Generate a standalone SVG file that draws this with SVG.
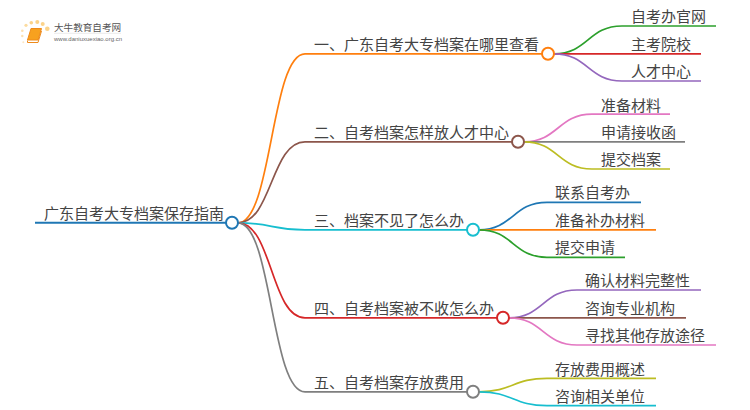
<svg xmlns="http://www.w3.org/2000/svg" width="750" height="410" viewBox="0 0 750 410">
<style>
text{font-family:"Noto Sans CJK SC","Liberation Sans",sans-serif;fill:#444;font-size:15px}
.c{fill:none;stroke-width:1.700}
.n{fill:#fff;stroke-width:2}
.bl{stroke:#1f77b4}.o{stroke:#ff7f0e}.gr{stroke:#2ca02c}.rd{stroke:#d62728}.pu{stroke:#9467bd}.br{stroke:#8c564b}.pk{stroke:#e377c2}.gy{stroke:#7f7f7f}.ol{stroke:#bcbd22}.cy{stroke:#17becf}
</style>
<rect width="750" height="410" fill="#fff"/>
<g id="logo">
<circle cx="47.300" cy="28.700" r="2.300" fill="#fbd38a"/><circle cx="42.700" cy="24" r="2" fill="#fbd38a"/><circle cx="37.300" cy="22" r="2" fill="#fbd38a"/><circle cx="31.300" cy="22.700" r="1.800" fill="#fbd38a"/><circle cx="26" cy="25.300" r="1.600" fill="#fcdca0"/><circle cx="22.300" cy="30.700" r="1.300" fill="#fce0b0"/><circle cx="22.300" cy="36" r="1.200" fill="#fce0b0"/><circle cx="23.300" cy="42.300" r="1" fill="#fce6c4"/>
<path d="M31 28.500H41.500L38 40H27.500Z" fill="#f7a11f" stroke="#ee8a1a"/>
<path d="M27.500 40.500V42.500H38L41.500 31" fill="none" stroke="#ee8a1a"/>
<text x="54" y="31" style="font-size:9.600px;fill:#555">大牛教育自考网</text>
<path d="M54 33.300H121" stroke="#ddd" stroke-width=".6"/>
<text x="54" y="41" style="font-size:6px;font-family:'Liberation Sans',sans-serif;fill:#666">www.daniuxuexiao.org.cn</text>
</g>
<g id="connectors">
<path class="c bl" d="M35 222.800H226" style="stroke-width:2"/>
<path class="c o" d="M238 222.800C272 222.800 271 53.800 305 53.800H542"/>
<path class="c br" d="M238 222.800C272 222.800 271 141.800 305 141.800H512"/>
<path class="c cy" d="M238 222.800C272 222.800 271 229.800 305 229.800H467"/>
<path class="c rd" d="M238 222.800C272 222.800 271 317.800 305 317.800H497"/>
<path class="c gy" d="M238 222.800C272 222.800 271 391.800 305 391.800H467"/>
<path class="c gr" d="M554 53.800C588 53.800 588 26 622 26H716"/>
<path class="c rd" d="M554 53.800H701"/>
<path class="c pu" d="M554 53.800C588 53.800 588 81 622 81H701"/>
<path class="c pk" d="M524 141.800C558 141.800 558 114.200 592 114.200H670"/>
<path class="c gy" d="M524 141.800H685"/>
<path class="c ol" d="M524 141.800C558 141.800 558 169 592 169H670"/>
<path class="c bl" d="M479 229.800C513 229.800 513 202.300 547 202.300H641"/>
<path class="c o" d="M479 229.800H656"/>
<path class="c gr" d="M479 229.800C513 229.800 513 257.300 547 257.300H625"/>
<path class="c pu" d="M509 317.800C543 317.800 543 290 577 290H701"/>
<path class="c br" d="M509 317.800H686"/>
<path class="c pk" d="M509 317.800C543 317.800 543 345 577 345H716"/>
<path class="c ol" d="M479 391.800C513 391.800 513 378.300 547 378.300H656"/>
<path class="c cy" d="M479 391.800C513 391.800 513 405.700 547 405.700H656"/>
</g>
<g id="root"><text x="44" y="219.300">广东自考大专档案保存指南</text><circle class="n bl" cx="232" cy="222.800" r="6"/></g>
<g id="b1"><text x="314" y="50.300">一、广东自考大专档案在哪里查看</text><circle class="n o" cx="548" cy="53.800" r="6"/></g>
<g id="b2"><text x="314" y="138.300">二、自考档案怎样放人才中心</text><circle class="n br" cx="518" cy="141.800" r="6"/></g>
<g id="b3"><text x="314" y="226.300">三、档案不见了怎么办</text><circle class="n cy" cx="473" cy="229.800" r="6"/></g>
<g id="b4"><text x="314" y="314.300">四、自考档案被不收怎么办</text><circle class="n rd" cx="503" cy="317.800" r="6"/></g>
<g id="b5"><text x="314" y="388.300">五、自考档案存放费用</text><circle class="n gy" cx="473" cy="391.800" r="6"/></g>
<g id="l11"><text x="631" y="22.300">自考办官网</text></g>
<g id="l12"><text x="631" y="50.300">主考院校</text></g>
<g id="l13"><text x="631" y="77.300">人才中心</text></g>
<g id="l21"><text x="601" y="110.500">准备材料</text></g>
<g id="l22"><text x="601" y="138.300">申请接收函</text></g>
<g id="l23"><text x="601" y="165.300">提交档案</text></g>
<g id="l31"><text x="555" y="198.300">联系自考办</text></g>
<g id="l32"><text x="555" y="226.300">准备补办材料</text></g>
<g id="l33"><text x="555" y="253.300">提交申请</text></g>
<g id="l41"><text x="585" y="286.300">确认材料完整性</text></g>
<g id="l42"><text x="585" y="314.300">咨询专业机构</text></g>
<g id="l43"><text x="585" y="341.300">寻找其他存放途径</text></g>
<g id="l51"><text x="555" y="374.800">存放费用概述</text></g>
<g id="l52"><text x="555" y="402">咨询相关单位</text></g>
</svg>
